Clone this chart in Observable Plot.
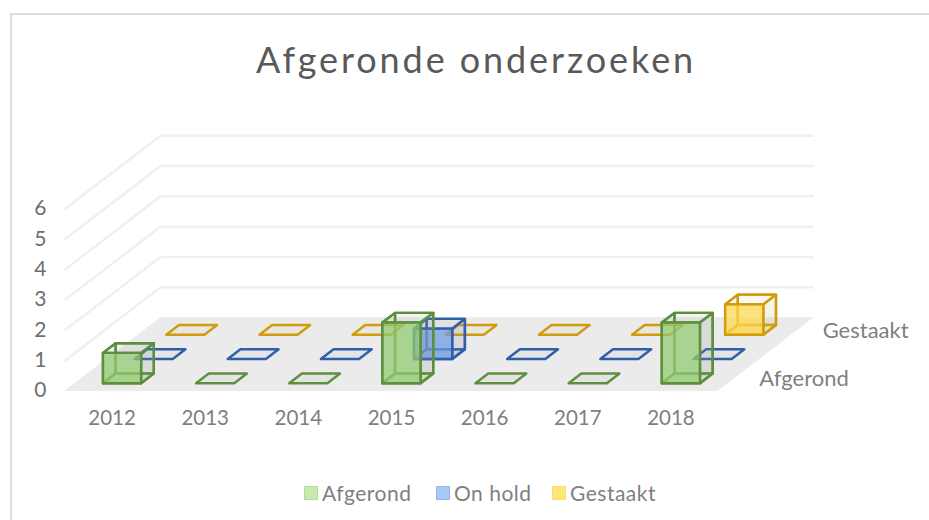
<!DOCTYPE html>
<html><head><meta charset="utf-8">
<script src="https://cdn.jsdelivr.net/npm/d3@7"></script>
<script src="https://cdn.jsdelivr.net/npm/@observablehq/plot@0.6"></script>
<style>
html,body{margin:0;padding:0;background:#fff;overflow:hidden}
#wrap{position:relative;width:929px;height:520px;overflow:hidden;font-family:Lato,sans-serif}
#frame{position:absolute;left:10px;top:13px;width:940px;height:540px;border:2px solid #dcdcdc;box-sizing:border-box}
#title{position:absolute;left:0;top:0;width:929px;height:100px;box-sizing:border-box;padding-left:23px;text-align:center;font-size:36px;line-height:36px;padding-top:41px;letter-spacing:2.9px;color:#595959;margin:0;font-weight:400}
#chart{position:absolute;left:0;top:100px}
#legend{position:absolute;left:0;top:480px;width:929px;height:30px;color:#7f7f7f;font-size:21px;line-height:26px}
.it{position:absolute;top:0;white-space:nowrap}
.sw{position:absolute;top:6px;left:0;width:12px;height:12px;border:1.5px solid}
.lb{position:absolute;left:18px;top:0;letter-spacing:.5px}
</style></head><body>
<div id="wrap">
<div id="frame"></div>
<h1 id="title">Afgeronde onderzoeken</h1>
<div id="chart"></div>
<div id="legend"></div>
</div>
<script>
const years = ["2012","2013","2014","2015","2016","2017","2018"];
const seriesNames = ["Afgerond","On hold","Gestaakt"];
const afgerond = [1,0,0,2,0,0,2];
const onHold   = [0,0,0,1,0,0,0];
const gestaakt = [0,0,0,0,0,0,1];
const yTicks = [0,1,2,3,4,5,6];
const depthLabels = ["Afgerond","Gestaakt"];
const strokes = ["#5d8f3f","#2f5fa8","#d09c0e"];
const fronts  = ["#93cc72","#6f9be0","#ffd84d"];
const sides   = ["#8f9c88","#8c98ac","#d0bc84"];
const swatchFill = ["#c6eab0","#a9c9f7","#ffe67a"];
const swatchLine = ["#b3dc9a","#93b8ee","#ffdb66"];
const legendX = [304,436,552];

// Oblique projection: one depth step moves this far in category and value units
const SHEAR_X = 0.34, SHEAR_Y = 0.8, BAR = 0.205, DEP = 0.2, OFF = 0.505;
const P = (c,d,v) => ({x: c + d*SHEAR_X, y: v + d*SHEAR_Y});
const poly = (pts, o) => Plot.line([...pts, pts[0]], {x:"x", y:"y", strokeLinejoin:"round", ...o});

const marks = [];
// floor
marks.push(poly([P(0,0,0),P(7,0,0),P(7,3,0),P(0,3,0)], {fill:"#ebebeb", stroke:"#ebebeb", strokeWidth:1}));
// gridlines
for (const v of yTicks) if (v>0)
  marks.push(Plot.line([P(0,0,v),P(0,3,v),P(7,3,v)], {x:"x", y:"y", stroke:"#f0f0f0", strokeWidth:2.5}));

function box(i, s, v) {
  const c0=i+OFF-BAR, c1=i+OFF+BAR, d0=s+.5-DEP, d1=s+.5+DEP;
  const st = {stroke:strokes[s], strokeWidth:2.4};
  if (v===0) {
    marks.push(poly([P(c0,d0,0),P(c1,d0,0),P(c1,d1,0),P(c0,d1,0)], {...st, fill:sides[s], fillOpacity:.08}));
    return;
  }
  const bk={fill:sides[s], fillOpacity:.08};
  marks.push(poly([P(c0,d1,0),P(c1,d1,0),P(c1,d1,v),P(c0,d1,v)], {...st, ...bk}));
  marks.push(poly([P(c0,d0,0),P(c0,d1,0),P(c0,d1,v),P(c0,d0,v)], {...st, ...bk}));
  marks.push(poly([P(c0,d0,0),P(c1,d0,0),P(c1,d1,0),P(c0,d1,0)], {...st, fill:fronts[s], fillOpacity:.25}));
  marks.push(poly([P(c1,d0,0),P(c1,d1,0),P(c1,d1,v),P(c1,d0,v)], {...st, fill:sides[s], fillOpacity:.12}));
  marks.push(poly([P(c0,d0,v),P(c1,d0,v),P(c1,d1,v),P(c0,d1,v)], {...st, fill:sides[s], fillOpacity:.03}));
  marks.push(poly([P(c0,d0,0),P(c1,d0,0),P(c1,d0,v),P(c0,d0,v)], {...st, fill:fronts[s], fillOpacity:.72}));
}
[gestaakt,onHold,afgerond].forEach((arr,k)=>{
  const s = 2-k;
  arr.forEach((v,i)=>box(i,s,v));
});

marks.push(Plot.axisY({ticks:yTicks, tickFormat:"d", tickSize:0, tickPadding:19, fontSize:21, color:"#6f6f6f", label:null}));
marks.push(Plot.axisX({ticks:years.map((_,i)=>i+.5), tickFormat:d=>years[Math.round(d-.5)], tickSize:0, tickPadding:20, fontSize:20.5, color:"#7f7f7f", label:null}));
marks.push(Plot.text(depthLabels.map((t)=>({t, ...P(7, seriesNames.indexOf(t)+.5, 0)})),
  {x:"x", y:"y", text:"t", textAnchor:"start", dx:26, dy:1, fontSize:22, fill:"#7f7f7f"}));

const svg = Plot.plot({
  width:929, height:380,
  marginLeft:65, marginRight:212, marginTop:108, marginBottom:90,
  x:{type:"linear", domain:[0,7]},
  y:{type:"linear", domain:[0,6]},
  style:{fontFamily:"Lato,sans-serif", background:"transparent", overflow:"visible"},
  marks
});
document.getElementById("chart").append(svg);

const lg = document.getElementById("legend");
seriesNames.forEach((n,i)=>{
  const it=document.createElement("div"); it.className="it"; it.style.left=legendX[i]+"px";
  const sw=document.createElement("div"); sw.className="sw"; sw.style.background=swatchFill[i]; sw.style.borderColor=swatchLine[i];
  const lb=document.createElement("div"); lb.className="lb"; lb.textContent=n;
  it.append(sw,lb); lg.append(it);
});
</script>
</body></html>
